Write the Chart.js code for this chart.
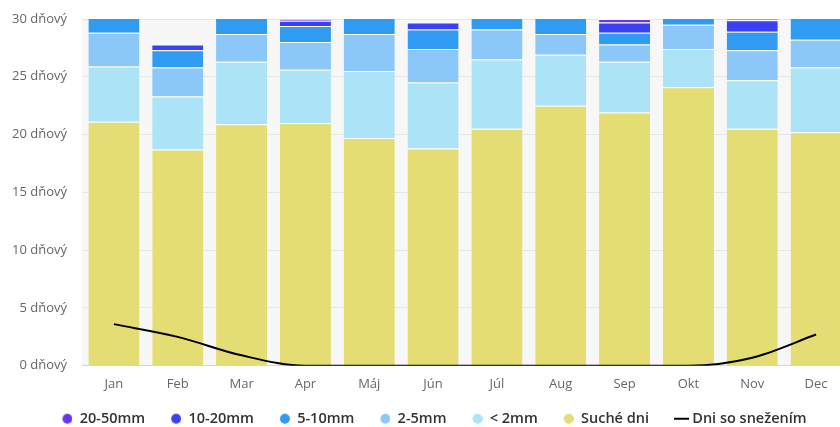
<!DOCTYPE html>
<html>
<head>
<meta charset="utf-8">
<script src="https://cdn.jsdelivr.net/npm/chart.js@4"></script>
<style>
  html, body { margin: 0; padding: 0; background: #fff; overflow: hidden; }
  #wrap { width: 850px; height: 436px; }
</style>
</head>
<body>
<div id="wrap"><canvas id="chart"></canvas></div>
<script>
const months = ['Jan', 'Feb', 'Mar', 'Apr', 'Máj', 'Jún', 'Júl', 'Aug', 'Sep', 'Okt', 'Nov', 'Dec'];
// days per month in each rain class (bottom to top of the stack)
const dryDays  = [21.1, 18.7, 20.9, 21.0, 19.7, 18.8, 20.5, 22.5, 21.9, 24.1, 20.5, 20.2];
const under2mm = [4.8, 4.6, 5.4, 4.6, 5.8, 5.7, 6.0, 4.4, 4.4, 3.3, 4.2, 5.6];
const mm2to5   = [2.9, 2.5, 2.4, 2.4, 3.2, 2.9, 2.6, 1.8, 1.5, 2.1, 2.6, 2.4];
const mm5to10  = [1.6, 1.5, 1.6, 1.4, 1.6, 1.7, 1.4, 1.6, 1.0, 1.0, 1.6, 2.0];
const mm10to20 = [0.5, 0.5, 0.5, 0.45, 0.5, 0.6, 0.4, 0.4, 0.9, 0.4, 1.0, 0.6];
const mm20to50 = [0.1, 0, 0.1, 0.15, 0.1, 0, 0.1, 0.2, 0.3, 0.1, 0.1, 0.1];
const snowDays = [3.6, 2.5, 0.9, 0, 0, 0, 0, 0, 0, 0, 0.7, 2.7];
const yTicks = [0, 5, 10, 15, 20, 25, 30];

const plotBg = {
  id: 'plotBg',
  beforeDraw(chart) {
    const a = chart.chartArea;
    const ctx = chart.ctx;
    ctx.save();
    ctx.fillStyle = '#f7f7f7';
    ctx.fillRect(a.left, a.top, a.right - a.left, a.bottom - a.top);
    ctx.restore();
  }
};

// legend markers as small canvases, so the gap around them can be set
function dot(color) {
  const c = document.createElement('canvas');
  c.width = 21;
  c.height = 12;
  const g = c.getContext('2d');
  g.fillStyle = color;
  g.beginPath();
  g.arc(16, 6, 5, 0, Math.PI * 2);
  g.fill();
  return c;
}
const dash = document.createElement('canvas');
dash.width = 29;
dash.height = 12;
dash.getContext('2d').fillRect(14, 5, 15, 2);

function bar(label, data, color) {
  return {
    type: 'bar',
    label: label,
    data: data,
    backgroundColor: color,
    borderColor: '#ffffff',
    borderWidth: { top: 1, left: 0, right: 0, bottom: 0 },
    borderSkipped: false,
    stack: 'rain',
    order: 1,
    pointStyle: dot(color)
  };
}

const ctx = document.getElementById('chart').getContext('2d');
new Chart(ctx, {
  data: {
    labels: months,
    datasets: [
      {
        type: 'line',
        label: 'Dni so snežením',
        data: snowDays,
        borderColor: '#000000',
        backgroundColor: '#000000',
        borderWidth: 2,
        pointRadius: 0,
        cubicInterpolationMode: 'monotone',
        stack: 'snow',
        order: 0,
        pointStyle: dash
      },
      bar('Suché dni', dryDays, '#e3dd73'),
      bar('< 2mm', under2mm, '#ade3f7'),
      bar('2-5mm', mm2to5, '#8bc7f9'),
      bar('5-10mm', mm5to10, '#309bf2'),
      bar('10-20mm', mm10to20, '#3a40f4'),
      bar('20-50mm', mm20to50, '#6b34f4')
    ]
  },
  options: {
    responsive: true,
    maintainAspectRatio: false,
    animation: false,
    layout: { padding: { left: 10, right: 2, top: 19, bottom: 0 } },
    datasets: { bar: { categoryPercentage: 1.0, barPercentage: 0.8 } },
    scales: {
      x: {
        stacked: true,
        grid: { display: false, drawTicks: false },
        border: { display: true, color: '#ccd6eb', width: 1 },
        ticks: { color: '#666666', font: { family: 'Open Sans', size: 13 }, padding: 11 },
        afterFit(scale) { scale.height = 30.75; }
      },
      y: {
        stacked: true,
        min: 0,
        max: 30,
        afterBuildTicks(scale) { scale.ticks = yTicks.map(v => ({ value: v })); },
        afterFit(scale) {
          scale.width = 72;
          scale.paddingTop = 0;
          scale.paddingBottom = 0;
        },
        grid: { color: '#e6e6e6', drawTicks: false },
        border: { display: false },
        ticks: {
          color: '#666666',
          font: { family: 'Open Sans', size: 13 },
          padding: 15,
          callback: v => v + ' dňový'
        }
      }
    },
    plugins: {
      legend: {
        position: 'bottom',
        reverse: true,
        labels: {
          usePointStyle: true,
          pointStyleWidth: 21,
          boxHeight: 14,
          padding: 15,
          color: '#333333',
          font: { family: 'Open Sans', size: 14.5, weight: '600' }
        }
      },
      tooltip: { enabled: false }
    }
  },
  plugins: [plotBg]
});
</script>
</body>
</html>
